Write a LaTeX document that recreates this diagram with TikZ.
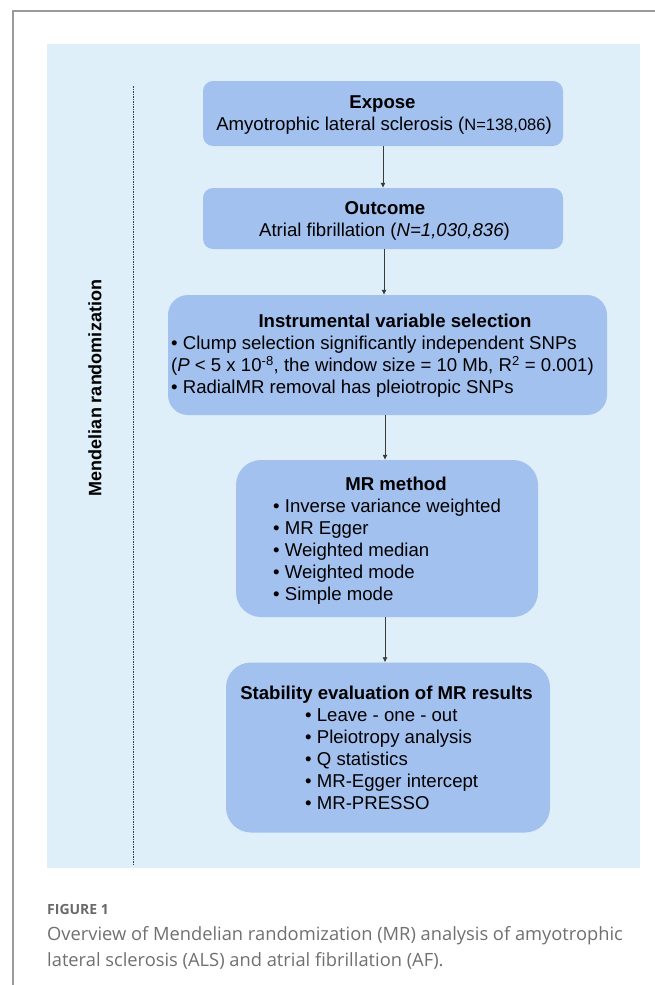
\documentclass[tikz,border=0pt]{standalone}
\usepackage{fontspec}
\setmainfont{Liberation Sans}
\newfontfamily\capfont{Open Sans}
\usetikzlibrary{arrows.meta}
\definecolor{panelc}{HTML}{DEEFFA}
\definecolor{boxc}{HTML}{A2C1EF}
\definecolor{framec}{HTML}{9A9A9A}
\definecolor{capc}{HTML}{707070}
\definecolor{figc}{HTML}{6A6A6A}
\definecolor{arrc}{HTML}{3A3A3A}
\begin{document}
\begin{tikzpicture}[x=1pt,y=-1pt,
  box/.style={draw=none, fill=boxc, rounded corners=#1, inner sep=0pt},
  txt/.style={inner sep=0pt, font=\fontsize{18.6}{22}\selectfont},
  arr/.style={draw=arrc, line width=0.7pt, -{Latex[length=5pt,width=5pt]}},
  captxt/.style={inner sep=0pt, anchor=base west, text=capc, font=\capfont\fontsize{18.3}{24}\selectfont}]
\useasboundingbox (0,0) rectangle (655,985);
\fill[white] (0,0) rectangle (655,985);
\draw[framec, line width=1.5pt] (655,11) -- (13,11) -- (13,985);
\fill[panelc] (47,44) rectangle (640,868);
% dashed divider
\draw[arrc, line width=0.8pt, dash pattern=on 1.5pt off 1pt] (133,86) -- (133,864);
\node[txt, rotate=90, font=\bfseries\fontsize{18}{22}\selectfont] (mrlabel) at (95,388) {Mendelian randomization};
% boxes
\node[box=10pt, minimum width=360pt, minimum height=65pt] (expose) at (383,113.5) {};
\node[box=10pt, minimum width=360pt, minimum height=61pt] (outcome) at (383,218.5) {};
\node[box=20pt, minimum width=439pt, minimum height=120pt] (ivs) at (387.5,355) {};
\node[box=25pt, minimum width=302pt, minimum height=157pt] (mr) at (387,538.5) {};
\node[box=25pt, minimum width=324pt, minimum height=170pt] (stab) at (388,747.5) {};
% texts
\node[txt, anchor=base] (t1a) at (382.5,108) {\bfseries Expose};
\node[txt, anchor=base] (t1b) at (384,130) {Amyotrophic lateral sclerosis ({\fontsize{16.5}{20}\selectfont N=138,086})};
\node[txt, anchor=base] (t2a) at (385,214.3) {\bfseries Outcome};
\node[txt, anchor=base] (t2b) at (384.5,236) {Atrial fibrillation (\textit{N=1,030,836})};
\node[txt, anchor=base] (t3a) at (395,327.3) {\bfseries Instrumental variable selection};
\node[txt, anchor=base west] (t3b) at (171,349.3) {• Clump selection significantly independent SNPs};
\node[txt, anchor=base west] (t3c) at (171,371.5) {(\textit{P} < 5 x 10\textsuperscript{-8}, the window size = 10 Mb, R\textsuperscript{2} = 0.001)};
\node[txt, anchor=base west] (t3d) at (171,393.5) {• RadialMR removal has pleiotropic SNPs};
\node[txt, anchor=base] (t4a) at (396,490) {\bfseries MR method};
\node[txt, anchor=base west] (t4b) at (273,512) {• Inverse variance weighted};
\node[txt, anchor=base west] (t4c) at (273,534) {• MR Egger};
\node[txt, anchor=base west] (t4d) at (273,556) {• Weighted median};
\node[txt, anchor=base west] (t4e) at (273,578) {• Weighted mode};
\node[txt, anchor=base west] (t4f) at (273,600) {• Simple mode};
\node[txt, anchor=base] (t5a) at (386.5,699.3) {\bfseries Stability evaluation of MR results};
\node[txt, anchor=base west] (t5b) at (305,721) {• Leave - one - out};
\node[txt, anchor=base west] (t5c) at (305,743) {• Pleiotropy analysis};
\node[txt, anchor=base west] (t5d) at (305,765) {• Q statistics};
\node[txt, anchor=base west] (t5e) at (305,787) {• MR-Egger intercept};
\node[txt, anchor=base west] (t5f) at (305,809) {• MR-PRESSO};
% arrows
\draw[arr] (expose.south) -- (outcome.north);
\draw[arr] ([xshift=1pt]outcome.south) -- ([xshift=1pt]outcome.south |- ivs.north);
\draw[arr] ([xshift=-2.5pt]ivs.south) -- ([xshift=-2.5pt]ivs.south |- mr.north);
\draw[arr] ([xshift=-2pt]mr.south) -- ([xshift=-2pt]mr.south |- stab.north);
% caption
\node[captxt, text=figc, font=\capfont\bfseries\fontsize{14}{16}\selectfont] (figlab) at (47,914) {FIGURE 1};
\node[captxt] (cap1) at (47,940) {Overview of Mendelian randomization (MR) analysis of amyotrophic};
\node[captxt] (cap2) at (47,966) {lateral sclerosis (ALS) and atrial fibrillation (AF).};
\end{tikzpicture}
\end{document}
